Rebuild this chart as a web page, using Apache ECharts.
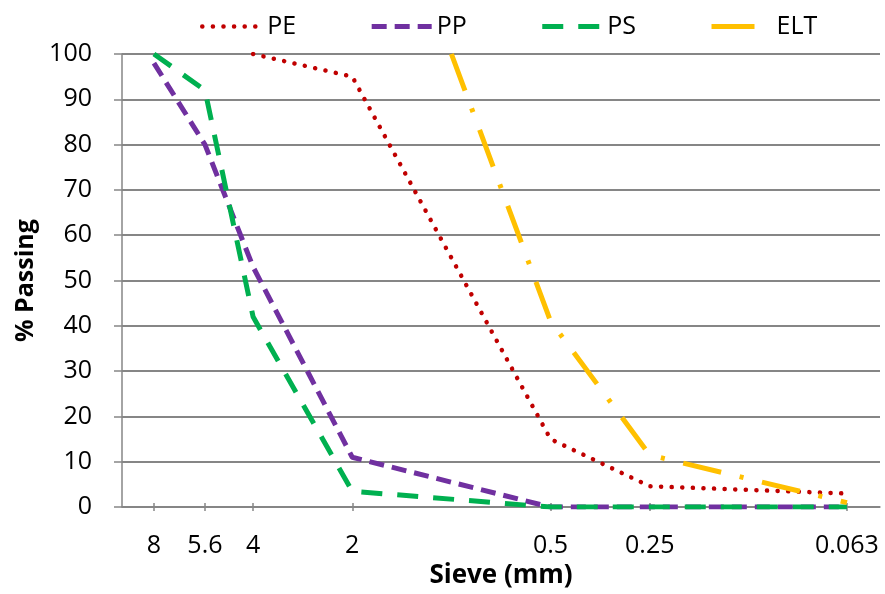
<!DOCTYPE html>
<html>
<head>
<meta charset="utf-8">
<script src="https://cdn.jsdelivr.net/npm/echarts@6/dist/echarts.min.js"></script>
<style>
  html, body { margin: 0; padding: 0; background: #fff; }
  #chart-view { width: 885px; height: 594px; }
</style>
</head>
<body>
<div id="chart-view"></div>
<script>
  // sieve sizes (mm), 1 mm has data but no tick label
  const sieve = [8, 5.6, 4, 2, 1, 0.5, 0.25, 0.063]
  const tickSieve = [8, 5.6, 4, 2, 0.5, 0.25, 0.063]
  const tickLabels = ['8', '5.6', '4', '2', '0.5', '0.25', '0.063']

  // % passing per polymer
  const pe = [null, null, 100, 95, null, 15, 4.6, 3]
  const pp = [98, 80, 53, 11, null, 0, 0, 0]
  const ps = [100, 92, 42, 3.5, null, 0, 0, 0]
  const elt = [null, null, null, null, 100, 41, 11.5, 1]

  const font = '"Open Sans", "Noto Sans", sans-serif'
  const grey = '#868686'

  const styles = {
    PE:  { color: '#C00000', width: 4.5, type: [0.1, 10.5], cap: 'round' },
    PP:  { color: '#7030A0', width: 5, type: [15, 8] },
    PS:  { color: '#00B050', width: 5, type: [21, 15] },
    ELT: { color: '#FFC000', width: 5, type: [39, 19, 4, 19] }
  }

  function toPoints(vals) {
    let arr = []
    for (let i = 0; i < sieve.length; i++) {
      if (vals[i] !== null) arr.push([Math.log10(sieve[i]), vals[i]])
    }
    return arr
  }

  const tickPos = tickSieve.map(s => Math.log10(s))

  function tickLabel(v) {
    for (let i = 0; i < tickPos.length; i++) {
      if (Math.abs(tickPos[i] - v) < 1e-6) return tickLabels[i]
    }
    return ''
  }

  function makeSeries(name, vals) {
    return {
      name: name,
      type: 'line',
      data: toPoints(vals),
      symbol: 'none',
      itemStyle: { color: styles[name].color },
      lineStyle: { ...styles[name] }
    }
  }

  let chartLine = echarts.init(document.getElementById('chart-view'))

  let baseX = {
    type: 'value',
    min: Math.log10(0.05),
    max: 1,
    inverse: true,
    splitLine: { show: false }
  }

  // legend line for ELT only shows its first long dash
  let legendStyles = {
    ...styles,
    ELT: { ...styles.ELT, type: [43, 40] }
  }

  let option = {
    animation: false,
    textStyle: { fontFamily: font },
    legend: {
      top: 9,
      left: 195,
      itemWidth: 60,
      itemHeight: 14,
      itemGap: 73,
      itemStyle: { opacity: 0, borderWidth: 0 },
      textStyle: { fontSize: 25, color: '#000', fontFamily: font },
      data: ['PE', 'PP', 'PS', 'ELT'].map(n => ({ name: n, lineStyle: { ...legendStyles[n] } }))
    },
    grid: { left: 122, right: 5, top: 54, bottom: 85 },
    xAxis: [
      {
        ...baseX,
        name: 'Sieve (mm)',
        nameLocation: 'middle',
        nameGap: 54,
        nameTextStyle: { fontSize: 26, fontWeight: 'bold', color: '#000', fontFamily: font },
        axisLine: { show: true, onZero: false, lineStyle: { color: grey, width: 1.5 } },
        axisTick: { show: true, length: 4, customValues: tickPos, lineStyle: { color: grey, width: 1.5 } },
        axisLabel: {
          customValues: tickPos,
          margin: 26,
          fontSize: 25,
          color: '#000',
          fontFamily: font,
          formatter: tickLabel
        }
      },
      {
        ...baseX,
        position: 'bottom',
        axisLine: { show: false, onZero: false },
        axisTick: { show: true, inside: true, length: 4, customValues: tickPos, lineStyle: { color: grey, width: 1.5 } },
        axisLabel: { show: false }
      }
    ],
    yAxis: {
      type: 'value',
      min: 0,
      max: 100,
      interval: 10,
      name: '% Passing',
      nameLocation: 'middle',
      nameGap: 78,
      nameTextStyle: { fontSize: 25, fontWeight: 'bold', color: '#000', fontFamily: font },
      axisLine: { show: true, onZero: false, lineStyle: { color: grey, width: 1.5 } },
      axisTick: { show: true, length: 8, lineStyle: { color: grey, width: 1.5 } },
      axisLabel: { fontSize: 25, color: '#000', margin: 30, fontFamily: font },
      splitLine: { show: true, lineStyle: { color: grey, width: 1.8 } }
    },
    series: [
      makeSeries('PE', pe),
      makeSeries('PP', pp),
      makeSeries('PS', ps),
      makeSeries('ELT', elt)
    ]
  }

  chartLine.setOption(option)
</script>
</body>
</html>
